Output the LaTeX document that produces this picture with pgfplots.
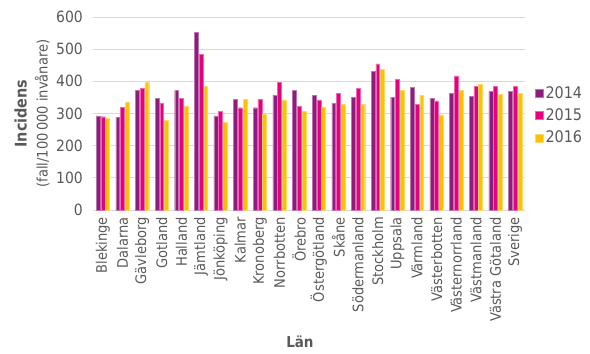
\documentclass[border=0pt]{standalone}
\usepackage{pgfplots}
\usepackage{pgfplotstable}
\pgfplotsset{compat=1.18}
\usepackage{fontspec}
\setmainfont{DejaVu Sans Condensed}
\definecolor{c14}{RGB}{142,27,126}
\definecolor{c15}{RGB}{230,0,126}
\definecolor{c16}{RGB}{255,192,0}
\definecolor{txt}{RGB}{89,89,89}
\definecolor{grd}{RGB}{217,217,217}
\pgfplotstableread{
x y14 y15 y16
0 293 290 284
1 287 320 336
2 371 378 396
3 348 332 279
4 371 348 324
5 553 484 384
6 293 306 273
7 345 318 345
8 318 345 299
9 357 396 342
10 371 323 306
11 357 342 321
12 332 363 329
13 351 378 329
14 432 454 438
15 351 407 372
16 381 329 357
17 348 339 296
18 363 417 372
19 354 384 390
20 369 384 360
21 369 384 363
}\data
\begin{document}
\begin{tikzpicture}
\useasboundingbox (-93pt,-144pt) rectangle (497pt,210pt);
\begin{axis}[
  scale only axis, width=432pt, height=193pt,
  ybar=0.8pt, bar width=3.9pt,
  xmin=-0.5, xmax=21.5, ymin=0, ymax=600,
  ytick={0,100,...,600},
  xtick=data,
  xticklabels={Blekinge,Dalarna,Gävleborg,Gotland,Halland,Jämtland,Jönköping,Kalmar,Kronoberg,Norrbotten,Örebro,Östergötland,Skåne,Södermanland,Stockholm,Uppsala,Värmland,Västerbotten,Västernorrland,Västmanland,Västra Götaland,Sverige},
  xticklabel style={rotate=90, anchor=east, inner xsep=7pt, inner ysep=0pt, font=\fontsize{14.5}{15}\selectfont, text=txt},
  yticklabel style={inner xsep=0pt, xshift=-10pt, font=\fontsize{15.5}{16}\selectfont, text=txt},
  /pgf/number format/assume math mode=true,
  major tick length=0pt,
  axis lines*=left, axis line style={draw=none},
  ymajorgrids, grid style={grd, line width=1pt},
  ylabel={{\fontsize{16}{18}\selectfont\bfseries Incidens}\\(fall/100\,000 invånare)},
  ylabel style={at={(axis description cs:-0.141,0.5)}, anchor=center, align=center, font=\fontsize{14.5}{21}\selectfont, text=txt},
  xlabel={Län},
  xlabel style={at={(axis description cs:0.479,-0.684)}, anchor=center, font=\fontsize{15}{16}\selectfont\bfseries, text=txt},
  legend image code/.code={\fill[#1] (0pt,-4pt) rectangle (8pt,4pt);},
  legend style={at={(axis description cs:1.023,0.49)}, anchor=west, draw=none, fill=none, font=\fontsize{16}{18}\selectfont, text=txt, row sep=5pt, inner sep=0pt},
  legend cell align=left,
]
\addplot[fill=c14, draw=c14!60!white, line width=0.4pt] table[x=x, y=y14] {\data};
\addplot[fill=c15, draw=c15!60!white, line width=0.4pt] table[x=x, y=y15] {\data};
\addplot[fill=c16, draw=c16!60!white, line width=0.4pt] table[x=x, y=y16] {\data};
\legend{2014,2015,2016}
\node[anchor=east, font=\fontsize{9.5}{11}\selectfont, text=black] at (axis description cs:1.134,-0.705) {Källa:~ folkhälsomyndigheten};
\end{axis}
\end{tikzpicture}
\end{document}
